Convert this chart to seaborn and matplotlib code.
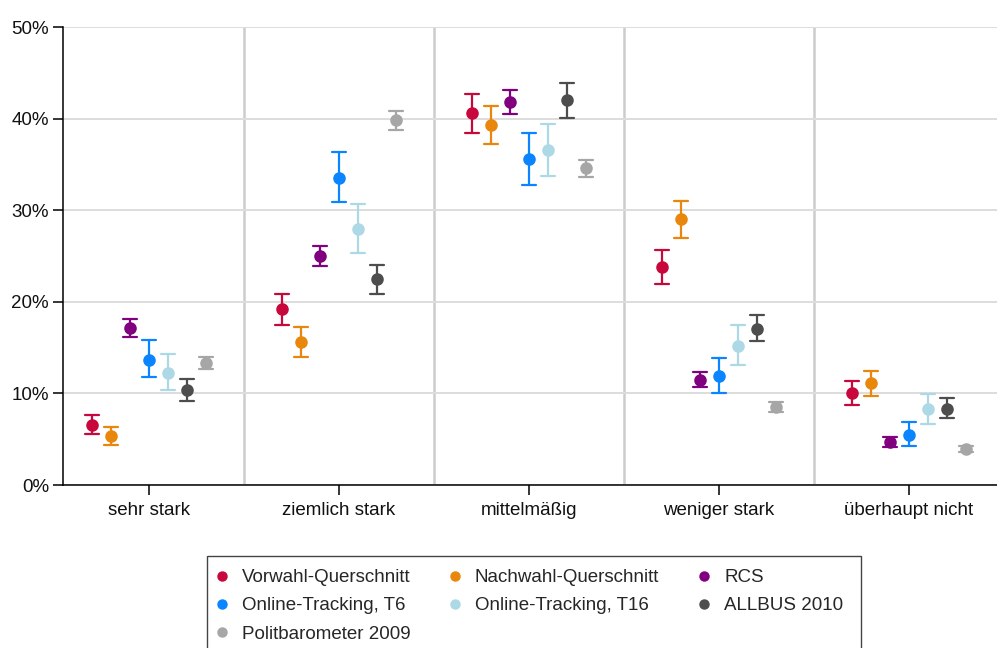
import pandas as pd
import matplotlib
matplotlib.use('Agg')
import matplotlib.pyplot as plt
from matplotlib.lines import Line2D
from matplotlib.patches import Rectangle
from matplotlib.ticker import PercentFormatter
import seaborn as sns
import numpy as np

categories = ['sehr stark', 'ziemlich stark', 'mittelmäßig', 'weniger stark', 'überhaupt nicht']

series_names = ['Vorwahl-Querschnitt', 'Nachwahl-Querschnitt', 'RCS', 'Online-Tracking, T6',
                'Online-Tracking, T16', 'ALLBUS 2010', 'Politbarometer 2009']
series_colors = ['#C8083C', '#E8870C', '#800080', '#0A84FF', '#ADD8E6', '#4D4D4D', '#A6A6A6']

# point estimates (percent), one list per series, ordered like categories
vorwahl = [6.55, 19.2, 40.6, 23.8, 10.0]
nachwahl = [5.35, 15.6, 39.3, 29.0, 11.1]
rcs = [17.1, 25.0, 41.8, 11.5, 4.66]
online_t6 = [13.7, 33.55, 35.56, 11.9, 5.46]
online_t16 = [12.26, 27.9, 36.54, 15.2, 8.26]
allbus = [10.37, 22.45, 42.0, 17.07, 8.3]
politbarometer = [13.28, 39.85, 34.57, 8.52, 3.93]

# lower / upper ends of the confidence intervals
vorwahl_lo = [5.57, 17.47, 38.43, 21.98, 8.77]
vorwahl_hi = [7.64, 20.85, 42.65, 25.7, 11.35]
nachwahl_lo = [4.37, 14.0, 37.2, 27.0, 9.68]
nachwahl_hi = [6.37, 17.2, 41.4, 30.97, 12.48]
rcs_lo = [16.12, 23.94, 40.5, 10.7, 4.18]
rcs_hi = [18.12, 26.1, 43.1, 12.37, 5.24]
online_t6_lo = [11.75, 30.86, 32.8, 10.08, 4.22]
online_t6_hi = [15.8, 36.35, 38.4, 13.86, 6.88]
online_t16_lo = [10.37, 25.33, 33.7, 13.13, 6.66]
online_t16_hi = [14.3, 30.68, 39.4, 17.43, 9.93]
allbus_lo = [9.17, 20.85, 40.1, 15.69, 7.28]
allbus_hi = [11.54, 24.0, 43.9, 18.6, 9.46]
politbarometer_lo = [12.7, 38.8, 33.6, 7.93, 3.57]
politbarometer_hi = [14.0, 40.8, 35.5, 9.06, 4.29]

estimates = [vorwahl, nachwahl, rcs, online_t6, online_t16, allbus, politbarometer]
lows = [vorwahl_lo, nachwahl_lo, rcs_lo, online_t6_lo, online_t16_lo, allbus_lo, politbarometer_lo]
highs = [vorwahl_hi, nachwahl_hi, rcs_hi, online_t6_hi, online_t16_hi, allbus_hi, politbarometer_hi]

# long table: three rows per point (lower, estimate, upper)
rows = []
for name, est, lo, hi in zip(series_names, estimates, lows, highs):
    for i, cat in enumerate(categories):
        for v in (lo[i], est[i], hi[i]):
            rows.append({'cat': cat, 'series': name, 'val': v})
df = pd.DataFrame(rows)

sns.set_style('white')
plt.rcParams['font.family'] = ['Liberation Sans', 'DejaVu Sans']

fig = plt.figure(figsize=(9.97, 6.48), dpi=100)
ax = fig.add_axes([63 / 997, 1 - 485 / 648, 1 - 63 / 997, (485 - 27) / 648])

sns.pointplot(data=df, x='cat', y='val', hue='series', order=categories, hue_order=series_names,
              palette=series_colors, estimator='median',
              errorbar=lambda x: (x.min(), x.max()),
              dodge=0.6, linestyle='none', marker='o', markersize=7,
              capsize=0.07, err_kws={'linewidth': 1.6}, legend=False, ax=ax)

ax.set_ylim(0, 50)
ax.set_xlim(-0.453, 4.463)
ax.set_yticks(np.arange(0, 51, 10))
ax.yaxis.set_major_formatter(PercentFormatter(decimals=0))
ax.set_xlabel('')
ax.set_ylabel('')

ax.grid(axis='y', color='#DDDDDD', linewidth=1.4, zorder=0)
ax.set_axisbelow(True)
for sep in np.arange(0.5, len(categories) - 0.5, 1):
    ax.axvline(sep, color='#CCCCCC', linewidth=1.8, zorder=0)

for s in ['top', 'right']:
    ax.spines[s].set_visible(False)
for s in ['left', 'bottom']:
    ax.spines[s].set_color('black')
    ax.spines[s].set_linewidth(1.1)
ax.tick_params(axis='both', direction='out', length=7, width=1.1, color='black',
               labelsize=13.5, labelcolor='#111111', left=True, bottom=True)
ax.tick_params(axis='y', pad=3)
ax.tick_params(axis='x', pad=5)

# legend order so that matplotlib's column filling gives the row layout of the original
leg_order = [0, 3, 6, 1, 4, 2, 5]
handles = [Line2D([], [], marker='o', linestyle='none', color=series_colors[i], markersize=6.5)
           for i in leg_order]
labels = [series_names[i] for i in leg_order]
leg = fig.legend(handles, labels, loc='upper left', bbox_to_anchor=(214.5 / 997, 1 - 569 / 648),
                 borderaxespad=0, ncol=3, frameon=False, fontsize=13.5,
                 handlelength=0.8, handletextpad=0.65, columnspacing=2.0, labelspacing=0.6,
                 borderpad=0)

# legend box, open at the bottom edge of the figure like in the original
fig.patches.append(Rectangle((207 / 997, -0.05), (861 - 207) / 997, 1 - 556 / 648 + 0.05,
                             transform=fig.transFigure, fill=False, edgecolor='#444444',
                             linewidth=1.0))

fig.savefig('out.png', dpi=100)
